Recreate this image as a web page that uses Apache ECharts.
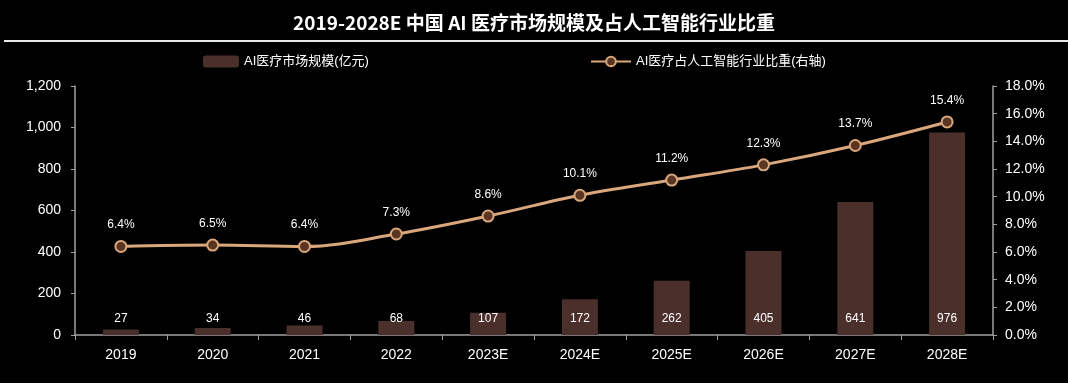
<!DOCTYPE html>
<html><head><meta charset="utf-8">
<script src="https://cdn.jsdelivr.net/npm/echarts@6/dist/echarts.min.js"></script>
<style>html,body{margin:0;padding:0;background:#000;}#c{width:1068px;height:383px;}</style>
</head><body><div id="c"></div>
<script>
const categories = ['2019','2020','2021','2022','2023E','2024E','2025E','2026E','2027E','2028E'];
const marketSize = [27,34,46,68,107,172,262,405,641,976];
const aiShare = [6.4,6.5,6.4,7.3,8.6,10.1,11.2,12.3,13.7,15.4];
const leftTicks = {min:0,max:1200,interval:200};
const rightTicks = {min:0,max:18,interval:2};
const titleText = '2019-2028E 中国 AI 医疗市场规模及占人工智能行业比重';
const seriesNames = ['AI医疗市场规模(亿元)','AI医疗占人工智能行业比重(右轴)'];

const font = '"Liberation Sans","Noto Sans CJK SC",sans-serif';
const chart = echarts.init(document.getElementById('c'));
chart.setOption({
  backgroundColor:'#000',
  animation:false,
  title:{text:titleText,left:'center',top:8,textStyle:{color:'#fff',fontSize:19,fontWeight:'bold',fontFamily:'"Liberation Sans Narrow","Noto Sans CJK SC",sans-serif'}},
  graphic:[{type:'line',shape:{x1:4,y1:41,x2:1068,y2:41},style:{stroke:'#e8e8e8',lineWidth:2}}],
  legend:[
    {data:[seriesNames[0]],left:198,top:50,itemWidth:36,itemHeight:12,textStyle:{color:'#fff',fontSize:13,fontFamily:font}},
    {data:[seriesNames[1]],left:585,top:50,itemWidth:40,itemHeight:12,textStyle:{color:'#fff',fontSize:13,fontFamily:font}}
  ],
  grid:{left:75,right:75,top:86,bottom:48},
  xAxis:{type:'category',data:categories,
    axisLine:{lineStyle:{color:'#a0a0a0',width:1.5}},
    axisTick:{show:true,alignWithLabel:false,lineStyle:{color:'#a0a0a0'}},
    axisLabel:{color:'#fff',fontSize:14,margin:13,fontFamily:font}},
  yAxis:[
    {type:'value',min:leftTicks.min,max:leftTicks.max,interval:leftTicks.interval,
     splitLine:{show:false},
     axisLine:{show:true,lineStyle:{color:'#a0a0a0',width:1.5}},
     axisTick:{show:true,length:4,lineStyle:{color:'#a0a0a0'}},
     axisLabel:{color:'#fff',fontSize:14,margin:14,fontFamily:font,formatter:v=>v.toLocaleString('en-US')}},
    {type:'value',min:rightTicks.min,max:rightTicks.max,interval:rightTicks.interval,
     splitLine:{show:false},
     axisLine:{show:true,lineStyle:{color:'#a0a0a0',width:1.5}},
     axisTick:{show:true,length:4,lineStyle:{color:'#a0a0a0'}},
     axisLabel:{color:'#fff',fontSize:14,margin:12,fontFamily:font,formatter:v=>v.toFixed(1)+'%'}}
  ],
  series:[
    {name:seriesNames[0],type:'bar',data:marketSize,barWidth:36,yAxisIndex:0,
     itemStyle:{color:'#4b2f2b'},
     label:{show:true,position:'insideBottom',distance:10,color:'#fff',fontSize:12,fontFamily:font}},
    {name:seriesNames[1],type:'line',yAxisIndex:1,smooth:0.35,
     data:aiShare,
     lineStyle:{color:'#d9a77b',width:3},
     symbol:'circle',symbolSize:11,
     itemStyle:{color:'#5a3522',borderColor:'#d9a77b',borderWidth:2},
     label:{show:true,position:'top',distance:9,color:'#fff',fontSize:12,fontFamily:font,formatter:p=>p.value.toFixed(1)+'%'}}
  ]
});
</script></body></html>
